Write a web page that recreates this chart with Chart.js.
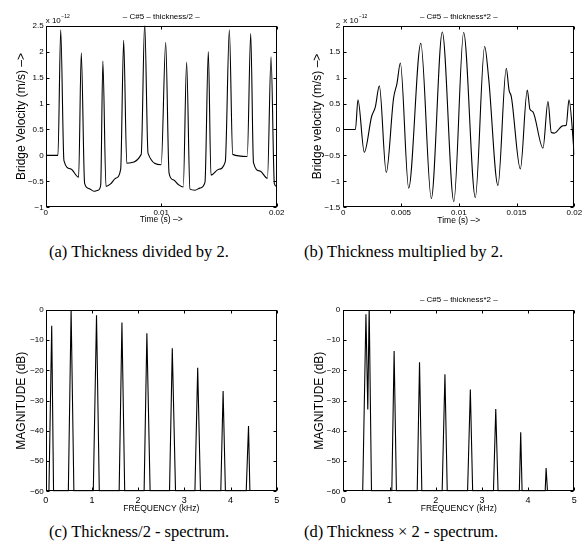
<!DOCTYPE html>
<html>
<head>
<meta charset="utf-8">
<script src="https://cdn.jsdelivr.net/npm/chart.js@4/dist/chart.umd.min.js"></script>
<style>
body { margin: 0; background: #fff; }
#wrap { position: relative; width: 587px; height: 550px; overflow: hidden; }
canvas { position: absolute; }
.cap { position: absolute; font-family: 'Liberation Serif', 'Times New Roman', serif; font-size: 16.5px; line-height: 1; color: #000; white-space: nowrap; }
</style>
</head>
<body>
<div id="wrap">
  <canvas id="chartA" width="290" height="228" style="left:0;top:0"></canvas>
  <canvas id="chartB" width="297" height="228" style="left:290px;top:0"></canvas>
  <canvas id="chartC" width="290" height="235" style="left:0;top:280px"></canvas>
  <canvas id="chartD" width="297" height="235" style="left:290px;top:280px"></canvas>
  <div class="cap" style="left:49px;top:244px">(a) Thickness divided by 2.</div>
  <div class="cap" style="left:304px;top:244px">(b) Thickness multiplied by 2.</div>
  <div class="cap" style="left:49px;top:524px">(c) Thickness/2 - spectrum.</div>
  <div class="cap" style="left:304px;top:524px">(d) Thickness &times; 2 - spectrum.</div>
</div>
<script>
// (a) bridge velocity, thickness/2 : time in ms, velocity in 1e-12 m/s
var timeA = [0, 1.06, 1.3, 1.58, 2.16, 2.85, 3.08, 3.37, 3.75, 4.18, 4.53, 4.76, 4.95, 5.22, 5.62, 6.06, 6.49,
             6.75, 7.02, 8.27, 8.57, 8.86, 10.0, 10.39, 10.68, 11.05, 11.48, 11.91, 12.2, 12.49, 12.93, 13.36,
             13.79, 14.08, 14.31, 14.94, 15.55, 15.9, 16.19, 17.45, 17.75, 17.99, 18.55, 19.2, 19.51, 19.8, 20.0];
var velA  = [0, 0, 2.42, -0.1, -0.26, -0.42, 1.98, -0.54, -0.64, -0.69, -0.67, -0.58, 1.82, -0.6, -0.55, -0.44, -0.27,
             2.22, -0.15, 0.02, 2.55, 0.04, -0.18, 2.18, -0.34, -0.47, -0.56, -0.61, 1.8, -0.65, -0.67, -0.63,
             -0.52, 2.0, -0.38, -0.27, -0.12, 2.42, 0.02, -0.02, 2.35, -0.14, -0.3, -0.44, 1.9, -0.55, -0.6];

// (b) bridge velocity, thickness*2
var timeB = [0, 1.05, 1.27, 1.82, 2.45, 2.77, 3.12, 3.72, 4.35, 4.65, 4.94, 5.66, 6.71, 7.62, 8.57, 9.57, 10.42,
             11.43, 12.24, 12.58, 13.39, 14.11, 14.35, 14.55, 15.33, 15.93, 16.16, 16.42, 17.29, 17.72, 18.01,
             18.27, 19.0, 19.3, 19.54, 20.0];
var velB  = [0, 0, 0.57, -0.44, 0.25, 0.43, 0.84, -0.83, 0.6, 0.89, 1.28, -1.13, 1.66, -1.33, 1.88, -1.39, 1.87,
             -1.31, 1.6, 1.0, -1.08, 1.18, 0.76, 0.63, -0.76, 0.76, 0.39, 0.34, -0.36, 0.54, -0.06,
             -0.07, 0.07, 0.08, 0.57, -0.49];

// (c) spectrum, thickness/2 : kHz, dB
var freqC = [0.07, 0.13, 0.17, 0.49, 0.55, 0.61, 1.03, 1.10, 1.16, 1.59, 1.65, 1.71, 2.13, 2.19, 2.26,
             2.68, 2.74, 2.81, 3.23, 3.29, 3.35, 3.79, 3.84, 3.89, 4.34, 4.39, 4.42];
var magC  = [-60, -5.2, -60, -60, 0, -60, -60, -1.7, -60, -60, -4.1, -60, -60, -7.7, -60,
             -60, -12.7, -60, -60, -19.1, -60, -60, -26.8, -60, -60, -38.4, -60];

// (d) spectrum, thickness*2
var freqD = [0.42, 0.49, 0.53, 0.56, 0.61, 1.05, 1.10, 1.15, 1.6, 1.65, 1.7, 2.14, 2.2, 2.25,
             2.69, 2.75, 2.8, 3.25, 3.3, 3.35, 3.81, 3.84, 3.87, 4.37, 4.39, 4.42];
var magD  = [-60, -1.4, -32.9, 1, -60, -60, -13.6, -60, -60, -17.3, -60, -60, -21.3, -60,
             -60, -26.3, -60, -60, -32.8, -60, -60, -40.5, -60, -60, -52.3, -60];

var xTicksA = [0, 0.01, 0.02];
var xTicksB = [0, 0.005, 0.01, 0.015, 0.02];
var yTicksA = [-1, -0.5, 0, 0.5, 1, 1.5, 2, 2.5];
var yTicksB = [-1.5, -1, -0.5, 0, 0.5, 1, 1.5, 2];
var freqTicks = [0, 1, 2, 3, 4, 5];
var dbTicks = [-60, -50, -40, -30, -20, -10, 0];

var FONT = "'Liberation Sans', Arial, Helvetica, sans-serif";

// box round the plot with inward ticks on all four sides, plus the exponent note
var boxPlugin = {
    id: 'box',
    afterDatasetsDraw: function(chart, args, opts) {
        var ctx = chart.ctx, a = chart.chartArea;
        var xs = chart.scales.x, ys = chart.scales.y;
        var L = Math.round(a.left) + 0.5, R = Math.round(a.right) - 0.5;
        var T = Math.round(a.top) + 0.5, B = Math.round(a.bottom) - 0.5;
        ctx.save();
        ctx.strokeStyle = '#000';
        ctx.lineWidth = 1;
        ctx.strokeRect(L, T, R - L, B - T);
        ctx.beginPath();
        xs.ticks.forEach(function(t) {
            var px = Math.round(xs.getPixelForValue(t.value)) + 0.5;
            ctx.moveTo(px, B); ctx.lineTo(px, B - 3);
            ctx.moveTo(px, T); ctx.lineTo(px, T + 3);
        });
        ys.ticks.forEach(function(t) {
            var py = Math.round(ys.getPixelForValue(t.value)) + 0.5;
            ctx.moveTo(L, py); ctx.lineTo(L + 3, py);
            ctx.moveTo(R, py); ctx.lineTo(R - 3, py);
        });
        ctx.stroke();
        if (opts.exponent) {
            ctx.fillStyle = '#000';
            ctx.textBaseline = 'alphabetic';
            ctx.textAlign = 'left';
            ctx.font = '8px ' + FONT;
            ctx.fillText('x 10', a.left, a.top - 3);
            var w = ctx.measureText('x 10').width;
            ctx.font = '5px ' + FONT;
            ctx.fillText(opts.exponent, a.left + w + 0.5, a.top - 8);
        }
        ctx.restore();
    }
};

function fmt(v) {
    return String(v).replace('-', '\u2212');
}

function makePanel(id, p) {
    var data = p.xs.map(function(x, i) { return {x: x * p.xScale, y: p.ys[i]}; });
    return new Chart(document.getElementById(id), {
        type: 'line',
        data: {
            datasets: [{
                data: data,
                borderColor: '#000',
                borderWidth: 1.1,
                pointRadius: 0,
                fill: false,
                tension: p.smooth ? 0.4 : 0,
                cubicInterpolationMode: p.smooth ? 'monotone' : 'default'
            }]
        },
        options: {
            responsive: false,
            animation: false,
            devicePixelRatio: 1,
            layout: { padding: { left: 0, right: p.right, top: p.padTop, bottom: 0 } },
            plugins: {
                legend: { display: false },
                tooltip: { enabled: false },
                title: {
                    display: !!p.title,
                    text: p.title,
                    fullSize: false,
                    color: '#000',
                    font: { family: FONT, size: 8, weight: 'normal' },
                    padding: p.titlePad
                },
                box: { exponent: p.exponent }
            },
            scales: {
                x: {
                    type: 'linear',
                    min: p.xTicks[0],
                    max: p.xTicks[p.xTicks.length - 1],
                    grid: { display: false, drawTicks: false },
                    border: { display: false },
                    afterBuildTicks: function(s) { s.ticks = p.xTicks.map(function(v) { return {value: v}; }); },
                    afterFit: function(s) { s.height = p.bottom; },
                    ticks: { color: '#000', padding: p.xTickPad, maxRotation: 0, font: { family: FONT, size: p.xTickSize }, callback: fmt },
                    title: { display: true, text: p.xTitle, color: '#000', font: { family: FONT, size: 8.5 }, padding: { top: 0, bottom: p.xTitlePad } }
                },
                y: {
                    type: 'linear',
                    min: p.yTicks[0],
                    max: p.yTicks[p.yTicks.length - 1],
                    grid: { display: false, drawTicks: false },
                    border: { display: false },
                    afterBuildTicks: function(s) { s.ticks = p.yTicks.map(function(v) { return {value: v}; }); },
                    afterFit: function(s) { s.width = p.left; },
                    ticks: { color: '#000', padding: p.yTickPad, font: { family: FONT, size: 8 }, callback: fmt },
                    title: { display: true, text: p.yTitle, color: '#000', font: { family: FONT, size: 12 }, padding: { top: p.yTitlePad, bottom: 0 } }
                }
            }
        },
        plugins: [boxPlugin]
    });
}

makePanel('chartA', {
    xs: timeA, ys: velA, xScale: 0.001, smooth: true,
    xTicks: xTicksA, yTicks: yTicksA, xTickSize: 8,
    title: '\u2013 C#5 \u2013 thickness/2 \u2013', titlePad: { top: 12.2, bottom: 3.9 }, padTop: 0,
    left: 45.7, right: 13.3, bottom: 20.7,
    xTickPad: 1, yTickPad: 2, xTitlePad: 3, yTitlePad: 14.8,
    xTitle: 'Time (s) \u2013>', yTitle: 'Bridge Velocity (m/s) \u2013>', exponent: '\u221212'
});

makePanel('chartB', {
    xs: timeB, ys: velB, xScale: 0.001, smooth: true,
    xTicks: xTicksB, yTicks: yTicksB, xTickSize: 8,
    title: '\u2013 C#5 \u2013 thickness*2 \u2013', titlePad: { top: 12.2, bottom: 3.9 }, padTop: 0,
    left: 53.3, right: 12.7, bottom: 20.7,
    xTickPad: 1, yTickPad: 3, xTitlePad: 2.5, yTitlePad: 20.3,
    xTitle: 'Time (s) \u2013>', yTitle: 'Bridge velocity (m/s) \u2013>', exponent: '\u221212'
});

makePanel('chartC', {
    xs: freqC, ys: magC, xScale: 1, smooth: false,
    xTicks: freqTicks, yTicks: dbTicks, xTickSize: 9,
    title: '', titlePad: 0, padTop: 30,
    left: 45.7, right: 13.3, bottom: 23.7,
    xTickPad: 3.5, yTickPad: 2, xTitlePad: 1.5, yTitlePad: 14.8,
    xTitle: 'FREQUENCY (kHz)', yTitle: 'MAGNITUDE (dB)'
});

makePanel('chartD', {
    xs: freqD, ys: magD, xScale: 1, smooth: false,
    xTicks: freqTicks, yTicks: dbTicks, xTickSize: 9,
    title: '\u2013 C#5 \u2013 thickness*2 \u2013', titlePad: { top: 15.2, bottom: 5.2 }, padTop: 0,
    left: 53.3, right: 12.7, bottom: 23.7,
    xTickPad: 3.5, yTickPad: 3, xTitlePad: 1.5, yTitlePad: 22.8,
    xTitle: 'FREQUENCY (kHz)', yTitle: 'MAGNITUDE (dB)'
});
</script>
</body>
</html>
